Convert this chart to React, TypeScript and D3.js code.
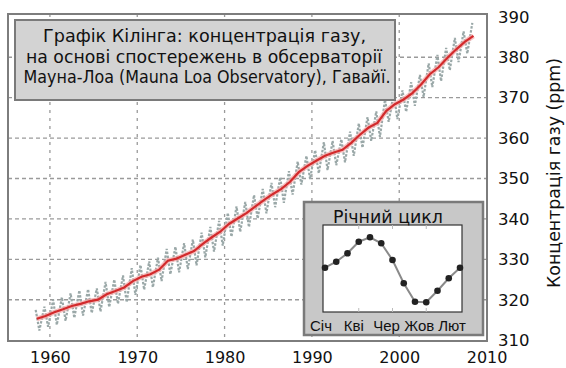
import { useRef, useEffect } from "react";
import * as d3 from "d3";

// Mauna Loa, річні середні (ppm), 1958..2008
const years = d3.range(1958, 2009);
const annualMean = [
  315.3, 315.97, 316.91, 317.64, 318.45, 318.99, 319.62, 320.04, 321.38, 322.16,
  323.04, 324.62, 325.68, 326.32, 327.45, 329.68, 330.18, 331.11, 332.04, 333.83,
  335.4, 336.84, 338.75, 340.11, 341.45, 343.05, 344.65, 346.12, 347.42, 349.19,
  351.57, 353.12, 354.39, 355.61, 356.45, 357.1, 358.83, 360.82, 362.61, 363.73,
  366.7, 368.38, 369.55, 371.14, 373.28, 375.8, 377.52, 379.8, 381.9, 383.79, 385.3,
];
// сезонний максимум (травень) і мінімум (жовтень) кожного року
const mayPeak = [
  317.5, 318.3, 320.0, 320.6, 321.6, 322.3, 322.6, 322.8, 324.4, 325.0,
  326.0, 327.8, 328.6, 329.5, 330.4, 332.6, 333.1, 334.0, 334.9, 336.6,
  338.0, 339.5, 341.5, 343.1, 344.2, 345.9, 347.4, 348.9, 350.3, 351.8,
  354.2, 355.6, 357.0, 359.0, 359.3, 359.7, 361.6, 363.6, 365.2, 366.6,
  369.5, 371.0, 371.8, 373.8, 375.6, 378.5, 380.6, 382.3, 384.8, 386.4, 388.5,
];
const octLow = [
  312.4, 313.3, 313.8, 314.8, 315.5, 316.1, 316.7, 317.1, 318.2, 319.0,
  319.4, 321.2, 322.5, 323.1, 324.6, 326.3, 326.8, 327.6, 328.5, 330.5,
  331.9, 333.4, 335.6, 336.8, 338.0, 340.1, 341.4, 342.9, 344.0, 346.0,
  348.5, 349.9, 351.3, 352.1, 353.3, 354.0, 355.6, 357.6, 359.3, 360.3,
  364.0, 364.7, 366.5, 368.0, 370.2, 372.6, 374.1, 376.8, 378.8, 380.9,
];

// річний цикл (відхилення від січня, ppm)
const cycleValues = [0, 0.6, 1.44, 2.6, 3.04, 2.44, 0.77, -1.56, -3.4, -3.46, -2.3, -1.06, 0];
const cycleLabels = ["Січ", "Кві", "Чер", "Жов", "Лют"];

const yTicks = [310, 320, 330, 340, 350, 360, 370, 380, 390];
const xTicks = [1960, 1970, 1980, 1990, 2000, 2010];

const titleLines = [
  "Графік Кілінга: концентрація газу,",
  "на основі спостережень в обсерваторії",
  "Мауна-Лоа (Mauna Loa Observatory), Гавайї.",
];
const yTitle = "Концентрація газу (ppm)";

const font = "'DejaVu Sans', sans-serif";
const narrow = "'Liberation Sans', Arial, sans-serif";

export default function App() {
  const width = 566,
    height = 368,
    left = 8,
    right = 487,
    top = 14,
    bottom = 341;

  const gx = useRef(null),
    gy = useRef(null);

  const x = d3.scaleLinear().domain([1955.2, 2010.05]).range([left, right]);
  const y = d3.scaleLinear().domain([309.8, 390.7]).range([bottom, top]);

  const monthly = [];
  years.forEach((yr, i) => {
    monthly.push([yr + 0.37, mayPeak[i]]);
    if (octLow[i] !== undefined) monthly.push([yr + 0.79, octLow[i]]);
  });

  const line = d3
    .line()
    .x((d) => x(d[0]))
    .y((d) => y(d[1]));

  const annual = years.map((yr, i) => [yr + 0.5, annualMean[i]]);

  // inset
  const ix = d3.scaleLinear().domain([0, 12]).range([325, 460]);
  const iy = d3.scaleLinear().domain([-4.43, 4.27]).range([312, 225]);
  const il = d3.scalePoint().domain(cycleLabels).range([321, 452]);
  const cycleLine = d3
    .line()
    .x((_, i) => ix(i))
    .y((d) => iy(d));

  useEffect(() => {
    d3.select(gx.current)
      .call(d3.axisBottom(x).tickValues(xTicks).tickFormat(d3.format("d")).tickSize(0).tickPadding(11))
      .attr("font-size", 16)
      .attr("font-family", font)
      .call((g) => g.select(".domain").remove())
      .selectAll("text")
      .attr("fill", "#111");
  }, []);

  useEffect(() => {
    d3.select(gy.current)
      .call(d3.axisRight(y).tickValues(yTicks).tickSize(0).tickPadding(11))
      .attr("font-size", 16.5)
      .attr("font-family", font)
      .call((g) => g.select(".domain").remove())
      .selectAll("text")
      .attr("fill", "#111");
  }, []);

  return (
    <svg
      width={width}
      height={height}
      style={{ position: "absolute", left: 0, top: 0, background: "#fff" }}
    >
      {/* сітка */}
      <g stroke="#9a9a9a" strokeWidth={1.3}>
        {xTicks
          .filter((t) => t < 2010)
          .map((t) => (
            <line key={t} x1={x(t)} x2={x(t)} y1={top} y2={bottom} strokeDasharray="3,5" />
          ))}
        {yTicks
          .filter((t) => t > 310 && t < 390)
          .map((t) => (
            <line key={t} x1={left} x2={right} y1={y(t)} y2={y(t)} strokeDasharray="4,3" />
          ))}
      </g>

      {/* місячні дані */}
      <path d={line(monthly)} fill="none" stroke="#9aa8a8" strokeWidth={2.2} strokeDasharray="2.5,1.5" />
      {/* річне середнє */}
      <path d={line(annual)} fill="none" stroke="#f3a8a8" strokeWidth={5} strokeOpacity={0.7} />
      <path d={line(annual)} fill="none" stroke="#d32a2c" strokeWidth={2.2} />

      <rect x={left} y={top} width={right - left} height={bottom - top} fill="none" stroke="#7d7d7d" strokeWidth={2} />

      {/* заголовок */}
      <rect x={15} y={20} width={380} height={80} fill="#d3d3d3" stroke="#7a7a7a" strokeWidth={2} />
      <g fontFamily={font} fontSize={18} fill="#111" textAnchor="middle">
        <text x={204.5} y={42} textLength={323} lengthAdjust="spacingAndGlyphs">{titleLines[0]}</text>
        <text x={204} y={62.5} textLength={356} lengthAdjust="spacingAndGlyphs">{titleLines[1]}</text>
        <text x={207} y={83} textLength={367} lengthAdjust="spacingAndGlyphs">{titleLines[2]}</text>
      </g>

      {/* вставка: річний цикл */}
      <rect x={304} y={202} width={179} height={133} fill="#c8c8c8" stroke="#7a7a7a" strokeWidth={2.5} />
      <rect x={323} y={225} width={139} height={87} fill="#fff" stroke="#333" strokeWidth={1.2} />
      <g stroke="#bbb" strokeWidth={1}>
        {[3, 6, 9].map((i) => (
          <g key={i}>
            <line x1={ix(i)} x2={ix(i)} y1={225} y2={229} />
            <line x1={ix(i)} x2={ix(i)} y1={308} y2={312} />
          </g>
        ))}
      </g>
      <path d={cycleLine(cycleValues)} fill="none" stroke="#8a8a8a" strokeWidth={2} />
      {cycleValues.map((v, i) => (
        <circle key={i} cx={ix(i)} cy={iy(v)} r={3.3} fill="#222" />
      ))}
      <text x={388} y={223} fontFamily={font} fontSize={18} textAnchor="middle" fill="#111" textLength={110} lengthAdjust="spacingAndGlyphs">
        Річний цикл
      </text>
      <g fontFamily={narrow} fontSize={15} textAnchor="middle" fill="#111">
        {cycleLabels.map((l) => (
          <text key={l} x={il(l)} y={330.5}>
            {l}
          </text>
        ))}
      </g>

      {/* осі */}
      <g ref={gx} transform={`translate(0,${bottom})`} />
      <g ref={gy} transform={`translate(${right},0)`} />
      <text
        transform={`translate(560,173) rotate(-90)`}
        fontFamily={font}
        fontSize={17}
        textAnchor="middle"
        fill="#111"
        textLength={230}
        lengthAdjust="spacingAndGlyphs"
      >
        {yTitle}
      </text>
    </svg>
  );
}
